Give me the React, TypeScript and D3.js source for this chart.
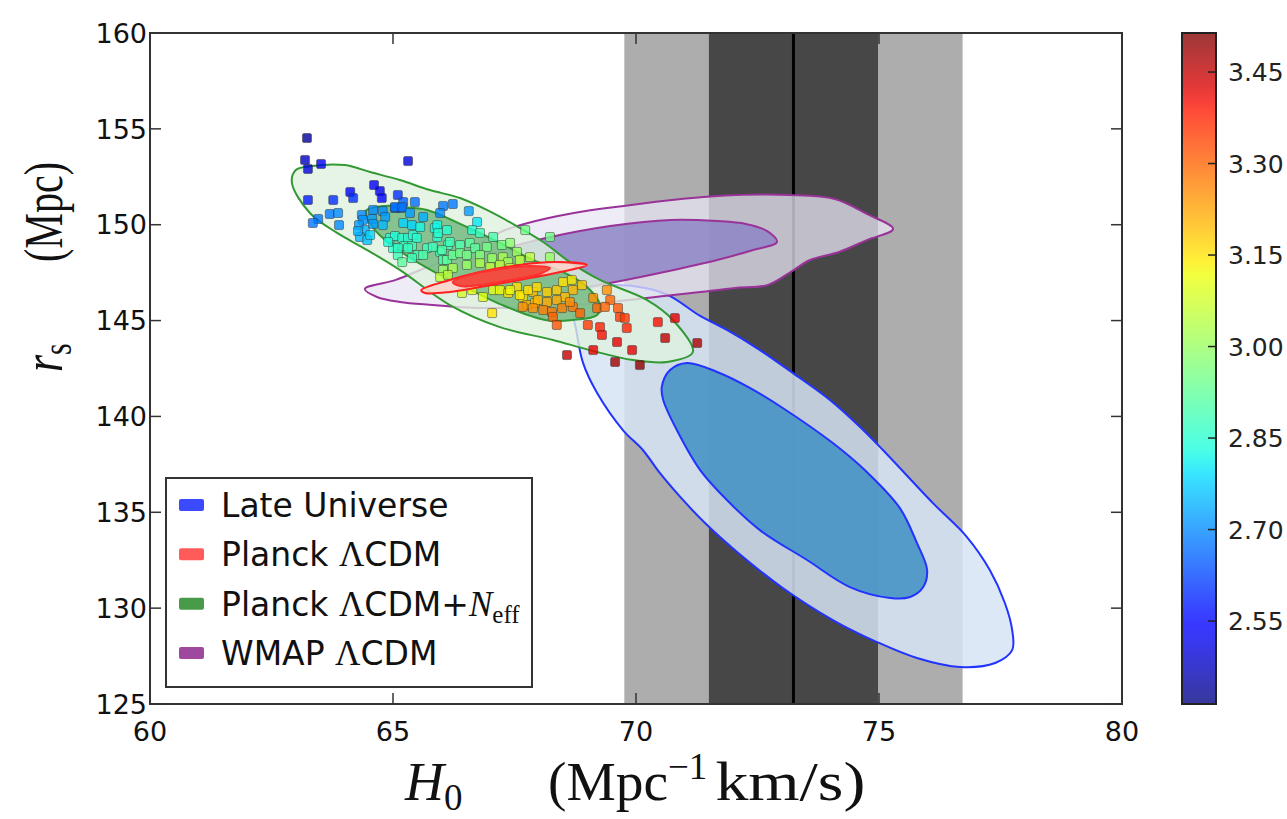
import React, { useRef, useEffect } from 'react';
import * as d3 from 'd3';

type Pt = [number, number];

const H0_TICKS = [60, 65, 70, 75, 80];
const RS_TICKS = [125, 130, 135, 140, 145, 150, 155, 160];
const NEFF_TICKS = [2.55, 2.7, 2.85, 3.0, 3.15, 3.3, 3.45];
const NEFF_RANGE: [number, number] = [2.414, 3.514];

// local distance ladder H0 (mean, 1 sigma)
const LOCAL_H0 = 73.24;
const LOCAL_SIGMA = 1.74;

const lateOuter: Pt[] = [
  [68.68, 146.07], [69.01, 146.65], [69.57, 146.85], [70.19, 146.7], [70.7, 146.28], [71.32, 145.24],
  [71.87, 144.51], [72.55, 143.46], [73.23, 142.26], [73.99, 140.86], [74.61, 139.45], [75.08, 138.25],
  [76.11, 135.48], [76.81, 133.71], [77.28, 131.99], [77.59, 130.27], [77.74, 128.86], [77.74, 127.81],
  [77.39, 127.14], [76.67, 126.93], [75.78, 127.4], [74.96, 128.23], [74.05, 129.38], [73.02, 131.05],
  [72.08, 132.93], [71.42, 134.44], [70.91, 135.8], [70.49, 137.05], [70.14, 138.25], [69.73, 139.29],
  [69.2, 141.22], [68.91, 142.79], [68.77, 144.51],
];
const lateInner: Pt[] = [
  [70.53, 141.53], [70.7, 142.42], [71.05, 142.79], [71.67, 142.32], [72.35, 141.48], [73.02, 140.44],
  [74.05, 138.61], [74.75, 137.1], [75.43, 135.22], [75.78, 133.4], [75.99, 131.99], [75.91, 131.1],
  [75.64, 130.58], [75.23, 130.53], [74.4, 131.1], [73.52, 132.51], [72.55, 134.07], [71.87, 135.64],
  [71.32, 137.2], [70.84, 139.29], [70.56, 140.86],
];
const wmapOuter: Pt[] = [
  [64.42, 146.65], [65.06, 147.12], [65.56, 147.64], [66.15, 148.21], [66.69, 148.94], [67.26, 149.67],
  [67.7, 150.04], [68.72, 150.61], [69.75, 150.98], [70.93, 151.34], [71.67, 151.5], [73.15, 151.55],
  [74.09, 151.34], [74.75, 150.56], [75.29, 149.78], [74.75, 149.2], [74.18, 148.58], [73.58, 148.16],
  [73.15, 147.48], [72.7, 146.85], [72.04, 146.7], [71.32, 146.49], [70.58, 146.28], [69.47, 145.97],
  [68.44, 145.76], [67.2, 145.65], [66.38, 145.7], [65.82, 145.81], [65.14, 145.97], [64.67, 146.23],
];
const wmapInner: Pt[] = [
  [66.58, 148.05], [67.2, 148.68], [68.15, 149.31], [69.47, 149.93], [70.72, 150.25], [71.67, 150.19],
  [72.26, 150.04], [72.7, 149.67], [72.9, 149.1], [72.41, 148.68], [71.67, 148.16], [70.58, 147.53],
  [69.47, 146.96], [68.58, 146.59], [67.61, 146.49], [67.0, 146.85],
];
const neffOuter: Pt[] = [
  [62.92, 152.18], [63.0, 152.85], [63.33, 153.06], [64.01, 153.11], [64.53, 152.75], [65.14, 152.33],
  [65.76, 151.81], [66.38, 151.39], [66.93, 150.77], [67.51, 149.98], [68.09, 149.1], [68.64, 148.05],
  [69.26, 147.12], [70.23, 146.07], [70.76, 145.03], [71.17, 143.36], [70.64, 142.84], [69.94, 142.94],
  [69.05, 143.46], [68.29, 143.99], [67.2, 144.66], [66.17, 145.81], [65.14, 147.64], [64.47, 148.68],
  [63.85, 149.57], [63.29, 150.61],
];
const neffInner: Pt[] = [
  [64.44, 150.71], [64.84, 150.98], [65.19, 150.92], [65.7, 150.77], [66.52, 149.88], [67.2, 149.05],
  [67.88, 148.16], [68.5, 147.53], [68.95, 146.85], [69.26, 145.81], [69.2, 145.29], [68.7, 145.03],
  [68.13, 145.03], [67.2, 145.86], [66.52, 146.7], [65.82, 147.58], [65.14, 148.63], [64.63, 149.72],
];
const planckOuter: Pt[] = [
  [65.58, 146.59], [66.17, 147.12], [66.79, 147.53], [67.61, 147.9], [68.33, 148.05], [68.99, 147.9],
  [68.44, 147.53], [67.61, 147.12], [66.79, 146.75], [66.17, 146.49], [65.66, 146.44],
];
const planckInner: Pt[] = [
  [66.23, 147.01], [66.58, 147.38], [67.2, 147.69], [67.82, 147.85], [68.23, 147.74], [68.02, 147.43],
  [67.41, 147.12], [66.79, 146.85], [66.38, 146.8],
];

// Planck LCDM+Neff chain samples: [H0, r_s, Neff]
const chain: [number, number, number][] = [
  [63.23, 154.52, 2.44], [63.19, 153.38, 2.48], [63.25, 152.91, 2.5], [63.52, 153.17, 2.52], [65.31, 153.32, 2.5],
  [63.25, 151.29, 2.58], [63.77, 151.29, 2.6], [64.12, 151.71, 2.55], [64.18, 151.39, 2.6], [64.61, 152.07, 2.53],
  [64.73, 151.76, 2.52], [64.77, 151.39, 2.55], [65.1, 151.55, 2.6], [65.21, 151.18, 2.65], [65.16, 150.87, 2.66],
  [65.04, 150.87, 2.64], [65.45, 151.18, 2.67], [63.46, 150.3, 2.68], [63.35, 150.09, 2.68], [63.7, 150.56, 2.68],
  [63.87, 150.61, 2.7], [63.89, 149.98, 2.7], [64.36, 150.51, 2.7], [64.38, 150.25, 2.71], [64.59, 150.77, 2.7],
  [64.79, 150.71, 2.7], [64.84, 150.4, 2.72], [64.57, 150.3, 2.72], [64.3, 149.98, 2.72], [64.42, 149.72, 2.74],
  [64.79, 149.98, 2.75], [64.59, 150.04, 2.72], [64.32, 149.36, 2.75], [64.47, 149.2, 2.76], [64.28, 149.67, 2.74],
  [64.53, 149.46, 2.78], [64.94, 149.31, 2.84], [65.04, 149.41, 2.84], [65.21, 150.09, 2.78], [65.39, 149.98, 2.78],
  [65.19, 149.31, 2.85], [65.31, 149.31, 2.85], [65.23, 148.89, 2.88], [65.0, 148.78, 2.86], [65.39, 148.89, 2.88],
  [65.1, 148.42, 2.88], [65.04, 150.92, 2.68], [65.19, 150.92, 2.68], [65.35, 150.61, 2.72], [65.62, 150.4, 2.74],
  [66.03, 150.98, 2.68], [65.97, 150.61, 2.7], [65.19, 148.05, 2.92], [64.9, 149.1, 2.84], [65.1, 148.78, 2.86],
  [65.31, 148.78, 2.87], [65.41, 149.46, 2.84], [65.51, 148.42, 2.88], [65.7, 148.78, 2.88], [65.86, 149.83, 2.82],
  [65.91, 149.36, 2.85], [65.97, 148.58, 2.88], [66.03, 148.16, 2.9], [66.13, 148.94, 2.88], [66.23, 151.08, 2.68],
  [66.56, 150.71, 2.72], [66.73, 150.14, 2.8], [65.56, 149.88, 2.82], [65.91, 149.98, 2.82], [65.93, 149.57, 2.85],
  [66.11, 149.72, 2.85], [66.63, 149.72, 2.85], [66.79, 149.57, 2.88], [67.06, 149.36, 2.9], [67.72, 149.72, 2.95],
  [65.49, 149.31, 2.85], [65.82, 148.84, 2.88], [66.01, 148.68, 2.9], [66.17, 149.1, 2.88], [66.38, 148.94, 2.9],
  [66.58, 149.05, 2.92], [66.69, 148.78, 2.92], [66.93, 148.84, 2.95], [67.24, 148.94, 2.95], [67.41, 149.05, 2.98],
  [67.55, 148.58, 3.0], [65.39, 148.26, 2.88], [65.62, 148.42, 2.9], [66.11, 148.16, 2.92], [66.23, 148.42, 2.93],
  [66.38, 148.52, 2.95], [66.52, 148.42, 2.95], [66.79, 148.42, 2.97], [67.04, 148.26, 3.0], [67.26, 148.31, 3.02],
  [67.37, 148.05, 3.02], [67.61, 148.16, 3.05], [67.82, 148.31, 3.05], [66.03, 147.64, 3.0], [66.23, 147.74, 3.02],
  [66.52, 147.9, 3.0], [66.79, 148.0, 3.03], [67.0, 147.79, 3.05], [67.2, 147.9, 3.05], [67.41, 147.74, 3.05],
  [65.97, 147.27, 3.05], [66.13, 147.38, 3.05], [66.42, 146.44, 3.08], [66.63, 146.59, 3.1], [66.85, 146.23, 3.1],
  [67.06, 146.59, 3.1], [67.2, 146.59, 3.12], [67.37, 146.44, 3.15], [67.55, 146.75, 3.15], [67.67, 146.23, 3.15],
  [67.76, 145.81, 3.2], [67.88, 146.49, 3.2], [67.92, 145.92, 3.2], [68.23, 149.36, 2.95], [68.23, 148.31, 3.0],
  [67.41, 146.59, 3.12], [67.61, 146.33, 3.14], [67.78, 146.59, 3.15], [67.96, 146.75, 3.16], [68.17, 146.49, 3.18],
  [68.37, 146.59, 3.18], [68.5, 147.01, 3.15], [68.68, 147.12, 3.15], [68.89, 146.85, 3.18], [68.7, 146.59, 3.2],
  [68.54, 146.23, 3.2], [68.37, 146.07, 3.22], [68.17, 145.97, 3.22], [67.98, 146.07, 3.2], [67.67, 145.71, 3.25],
  [67.88, 145.65, 3.25], [68.09, 145.55, 3.27], [68.27, 145.45, 3.28], [68.29, 145.19, 3.3], [68.48, 145.65, 3.27],
  [68.7, 145.71, 3.28], [68.85, 145.39, 3.3], [68.64, 145.97, 3.25], [67.04, 145.39, 3.15], [68.37, 144.77, 3.32],
  [69.12, 146.18, 3.25], [69.2, 145.65, 3.3], [69.4, 146.59, 3.25], [69.47, 146.07, 3.3], [69.36, 145.71, 3.3],
  [69.63, 145.65, 3.32], [69.67, 145.19, 3.35], [69.77, 145.13, 3.35], [69.26, 144.66, 3.38], [69.01, 144.77, 3.35],
  [69.3, 144.25, 3.4], [69.81, 144.61, 3.38], [69.61, 143.88, 3.42], [69.12, 143.46, 3.42], [69.92, 143.46, 3.42],
  [68.58, 143.2, 3.45], [70.45, 144.92, 3.4], [70.8, 145.13, 3.42], [70.6, 144.09, 3.45], [71.26, 143.83, 3.47],
  [69.57, 142.84, 3.48], [70.08, 142.68, 3.5],
];

const legendItems = [
  { key: 'late', color: '#3040ff' },
  { key: 'planck', color: '#ff5252' },
  { key: 'neff', color: '#3e963e' },
  { key: 'wmap', color: '#9a3e9a' },
];

const jetR = d3.scaleLinear().domain([0, 0.35, 0.66, 0.89, 1]).range([0, 0, 1, 1, 0.5]).clamp(true);
const jetG = d3.scaleLinear().domain([0, 0.125, 0.375, 0.64, 0.91, 1]).range([0, 0, 1, 1, 0, 0]).clamp(true);
const jetB = d3.scaleLinear().domain([0, 0.11, 0.34, 0.65, 1]).range([0.5, 1, 1, 0, 0]).clamp(true);
const jet = (t: number) => d3.rgb(jetR(t) * 255, jetG(t) * 255, jetB(t) * 255).formatHex();

const SANS = 'DejaVu Sans, sans-serif';
const SERIF = 'Liberation Serif, DejaVu Serif, serif';

const W = 1287;
const H = 819;

export default function App() {
  const svgRef = useRef<SVGSVGElement | null>(null);

  useEffect(() => {
    if (!svgRef.current) return;
    const svg = d3.select(svgRef.current);
    svg.selectAll('*').remove();

    const left = 150, right = 1122, top = 33, bottom = 704;
    const x = d3.scaleLinear().domain([60, 80]).range([left, right]);
    const y = d3.scaleLinear().domain([125, 160]).range([bottom, top]);

    svg.append('rect').attr('width', W).attr('height', H).attr('fill', '#fff');

    const defs = svg.append('defs');
    defs.append('clipPath').attr('id', 'plotclip')
      .append('rect').attr('x', left).attr('y', top).attr('width', right - left).attr('height', bottom - top);

    const plot = svg.append('g').attr('clip-path', 'url(#plotclip)');

    // local H0 bands
    plot.append('rect')
      .attr('x', x(LOCAL_H0 - 2 * LOCAL_SIGMA)).attr('y', top)
      .attr('width', x(LOCAL_H0 + 2 * LOCAL_SIGMA) - x(LOCAL_H0 - 2 * LOCAL_SIGMA)).attr('height', bottom - top)
      .attr('fill', '#adadad');
    plot.append('rect')
      .attr('x', x(LOCAL_H0 - LOCAL_SIGMA)).attr('y', top)
      .attr('width', x(LOCAL_H0 + LOCAL_SIGMA) - x(LOCAL_H0 - LOCAL_SIGMA)).attr('height', bottom - top)
      .attr('fill', '#474747');
    plot.append('line')
      .attr('x1', x(LOCAL_H0)).attr('x2', x(LOCAL_H0)).attr('y1', top).attr('y2', bottom)
      .attr('stroke', '#000').attr('stroke-width', 3);

    const line = d3.line<Pt>().x(d => x(d[0])).y(d => y(d[1])).curve(d3.curveCatmullRomClosed.alpha(0.5));

    const contour = (pts: Pt[], fill: string, opacity: number, stroke: string) => {
      plot.append('path').attr('d', line(pts)!)
        .attr('fill', fill).attr('fill-opacity', opacity)
        .attr('stroke', stroke).attr('stroke-width', 2).attr('stroke-linejoin', 'round');
    };

    contour(lateOuter, 'rgb(214,228,244)', 0.85, '#2233ff');
    contour(lateInner, '#4a95c6', 0.92, '#2233ff');
    contour(wmapOuter, 'rgb(232,229,243)', 0.75, '#993399');
    contour(wmapInner, '#8d86c5', 0.85, '#993399');
    contour(neffOuter, 'rgb(222,241,222)', 0.8, '#339933');
    contour(neffInner, '#70b87c', 0.82, '#339933');

    const cnorm = d3.scaleLinear().domain(NEFF_RANGE).range([0, 1]).clamp(true);
    const sz = 9;
    plot.append('g').selectAll('rect').data(chain).join('rect')
      .attr('x', d => x(d[0]) - sz / 2).attr('y', d => y(d[1]) - sz / 2)
      .attr('width', sz).attr('height', sz).attr('rx', 1.5)
      .attr('fill', d => jet(cnorm(d[2]))).attr('fill-opacity', 0.8)
      .attr('stroke', '#333').attr('stroke-opacity', 0.5).attr('stroke-width', 1);

    contour(planckOuter, '#fdd3c9', 0.88, '#ff2020');
    contour(planckInner, '#f0463a', 0.95, '#ff3030');

    // frame and ticks
    svg.append('rect').attr('x', left).attr('y', top).attr('width', right - left).attr('height', bottom - top)
      .attr('fill', 'none').attr('stroke', '#333').attr('stroke-width', 2);

    const tl = 11;
    const tickG = svg.append('g').attr('stroke', '#333').attr('stroke-width', 1.5);
    H0_TICKS.forEach(t => {
      tickG.append('line').attr('x1', x(t)).attr('x2', x(t)).attr('y1', bottom).attr('y2', bottom - tl);
      tickG.append('line').attr('x1', x(t)).attr('x2', x(t)).attr('y1', top).attr('y2', top + tl);
    });
    RS_TICKS.forEach(t => {
      tickG.append('line').attr('x1', left).attr('x2', left + tl).attr('y1', y(t)).attr('y2', y(t));
      tickG.append('line').attr('x1', right).attr('x2', right - tl).attr('y1', y(t)).attr('y2', y(t));
    });

    svg.append('g').selectAll('text').data(H0_TICKS).join('text')
      .attr('x', d => x(d)).attr('y', 741).attr('text-anchor', 'middle')
      .attr('font-family', SANS).attr('font-size', 27).attr('fill', '#111')
      .text(d => String(d));
    svg.append('g').selectAll('text').data(RS_TICKS).join('text')
      .attr('x', left - 3).attr('y', d => y(d)).attr('dy', '0.36em').attr('text-anchor', 'end')
      .attr('font-family', SANS).attr('font-size', 27).attr('fill', '#111')
      .text(d => String(d));

    // axis labels
    const xl = svg.append('text').attr('font-family', SERIF).attr('font-size', 54).attr('fill', '#111');
    xl.append('tspan').attr('x', 405).attr('y', 800).attr('font-style', 'italic').text('H');
    xl.append('tspan').attr('font-size', 37).attr('dy', 10).text('0');
    const xl2 = svg.append('text').attr('x', 548).attr('y', 800).attr('font-family', SERIF).attr('font-size', 54).attr('fill', '#111');
    xl2.append('tspan').attr('textLength', 120).attr('lengthAdjust', 'spacingAndGlyphs').text('(Mpc');
    xl2.append('tspan').attr('font-size', 37).attr('dy', -21).text('\u22121');
    xl2.append('tspan').attr('dy', 21).attr('dx', 8).attr('textLength', 150).attr('lengthAdjust', 'spacingAndGlyphs').text('km/s)');

    const yl = svg.append('g').attr('transform', 'translate(62,0) scale(1.3,1)');
    const ylr = yl.append('text').attr('transform', 'translate(0,372) rotate(-90)')
      .attr('font-family', SERIF).attr('font-size', 44).attr('fill', '#111');
    ylr.append('tspan').attr('font-style', 'italic').text('r');
    ylr.append('tspan').attr('font-size', 30).attr('dy', 7).text('s');
    yl.append('text').attr('transform', 'translate(0,262) rotate(-90)')
      .attr('font-family', SERIF).attr('font-size', 42).attr('fill', '#111')
      .attr('textLength', 100).attr('lengthAdjust', 'spacingAndGlyphs')
      .text('(Mpc)');

    // legend
    const lg = svg.append('g');
    lg.append('rect').attr('x', 166).attr('y', 478).attr('width', 366).attr('height', 209)
      .attr('fill', '#fff').attr('stroke', '#333').attr('stroke-width', 2);
    const rowY = d3.scaleLinear().domain([0, 3]).range([505, 653]);
    legendItems.forEach((it, i) => {
      const cy = rowY(i);
      lg.append('rect').attr('x', 179).attr('y', cy - 6).attr('width', 25).attr('height', 12).attr('rx', 2)
        .attr('fill', it.color).attr('fill-opacity', 0.95);
      const t = lg.append('text').attr('x', 221).attr('y', cy + 12)
        .attr('font-family', SANS).attr('font-size', 33).attr('fill', '#111');
      if (it.key === 'late') {
        t.text('Late Universe');
      } else if (it.key === 'wmap') {
        t.append('tspan').text('WMAP ');
        t.append('tspan').attr('font-family', SERIF).attr('font-size', 35).text('\u039B');
        t.append('tspan').text('CDM');
      } else {
        t.append('tspan').text('Planck ');
        t.append('tspan').attr('font-family', SERIF).attr('font-size', 35).text('\u039B');
        t.append('tspan').text('CDM');
        if (it.key === 'neff') {
          t.append('tspan').text('+');
          t.append('tspan').attr('font-family', SERIF).attr('font-style', 'italic').attr('font-size', 35).text('N');
          t.append('tspan').attr('font-family', SERIF).attr('font-size', 25).attr('dy', 7).text('eff');
        }
      }
    });

    // colorbar
    const cbX = 1182, cbW = 34;
    const cy = d3.scaleLinear().domain(NEFF_RANGE).range([bottom, top]);
    const grad = defs.append('linearGradient').attr('id', 'jetgrad')
      .attr('x1', 0).attr('x2', 0).attr('y1', 1).attr('y2', 0);
    d3.range(0, 1.0001, 0.02).forEach(t => {
      grad.append('stop').attr('offset', t).attr('stop-color', jet(t)).attr('stop-opacity', 0.78);
    });
    svg.append('rect').attr('x', cbX).attr('y', top).attr('width', cbW).attr('height', bottom - top)
      .attr('fill', 'url(#jetgrad)').attr('stroke', '#222').attr('stroke-width', 2);
    NEFF_TICKS.forEach(t => {
      svg.append('line').attr('x1', cbX + cbW).attr('x2', cbX + cbW - 8).attr('y1', cy(t)).attr('y2', cy(t))
        .attr('stroke', '#222').attr('stroke-width', 1.5);
    });
    svg.append('g').selectAll('text').data(NEFF_TICKS).join('text')
      .attr('x', 1228).attr('y', d => cy(d)).attr('dy', '0.36em')
      .attr('font-family', SANS).attr('font-size', 25).attr('fill', '#222')
      .text(d => d.toFixed(2));
  }, []);

  return (
    <div style={{ position: 'absolute', left: 0, top: 0, width: W, height: H }}>
      <svg ref={svgRef} width={W} height={H}></svg>
    </div>
  );
}
